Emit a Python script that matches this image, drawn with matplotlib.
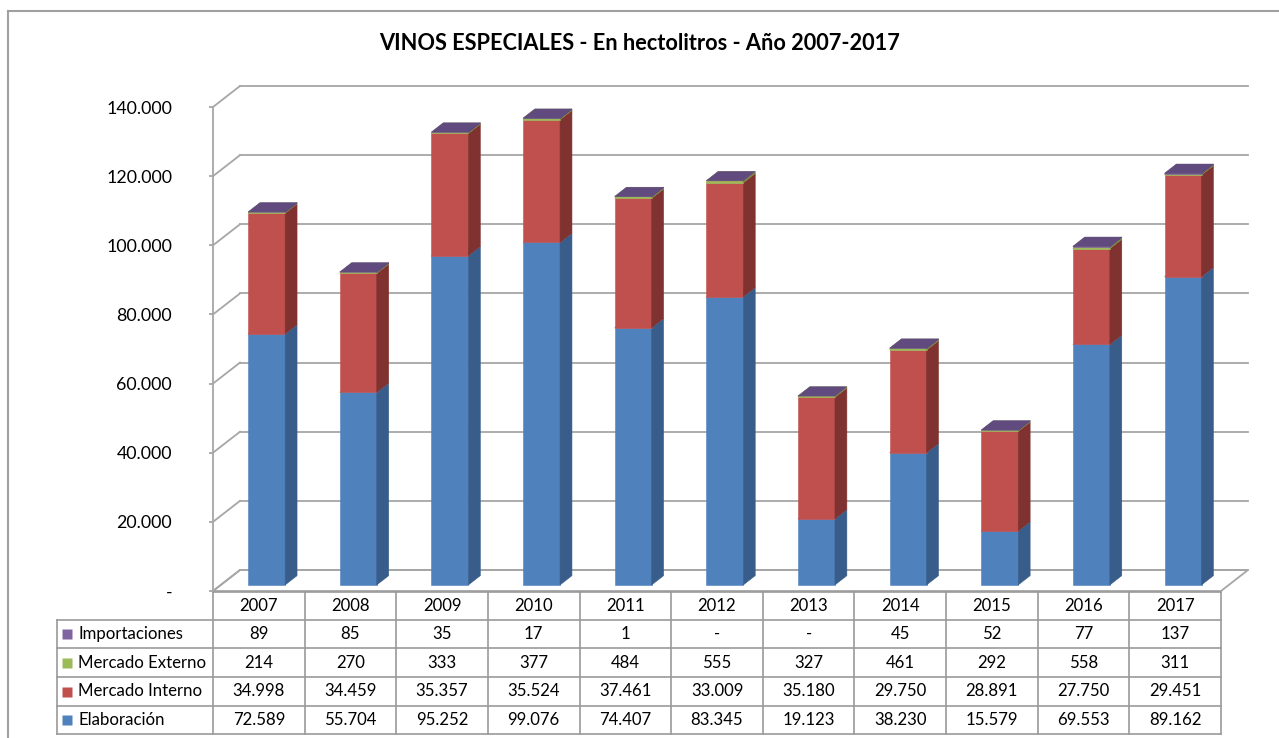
import matplotlib
matplotlib.use("Agg")
import matplotlib.pyplot as plt
from matplotlib.patches import Polygon
from matplotlib.lines import Line2D
import matplotlib.transforms as mtransforms

# datos (hectolitros)
years = ["2007", "2008", "2009", "2010", "2011", "2012", "2013", "2014", "2015", "2016", "2017"]
elaboracion = [72589, 55704, 95252, 99076, 74407, 83345, 19123, 38230, 15579, 69553, 89162]
mercado_interno = [34998, 34459, 35357, 35524, 37461, 33009, 35180, 29750, 28891, 27750, 29451]
mercado_externo = [214, 270, 333, 377, 484, 555, 327, 461, 292, 558, 311]
importaciones = [89, 85, 35, 17, 1, 0, 0, 45, 52, 77, 137]

series_names = ["Elaboración", "Mercado Interno", "Mercado Externo", "Importaciones"]
series_vals = [elaboracion, mercado_interno, mercado_externo, importaciones]
# front, side, top
series_cols = [("#4f81bd", "#385d8a", "#6f93c6"),
               ("#c0504d", "#7f322f", "#cc6c69"),
               ("#9bbb59", "#71893f", "#9bbb59"),
               ("#8064a2", "#5c4776", "#604a7e")]
yticks = [0, 20000, 40000, 60000, 80000, 100000, 120000, 140000]

plt.rcParams['font.family'] = ['Lato', 'DejaVu Sans']

W, H = 1279, 738
fig = plt.figure(figsize=(W / 100, H / 100), dpi=100)
ax = fig.add_axes([213 / W, (H - 591) / H, 1008 / W, 484 / H])
ax.set_xlim(-0.5, 10.5)
ax.set_ylim(0, 140000)

# depth of the 3d box in data units
DX = 27 / 91.64
DY = 21 * 140000 / 484
z0, z1 = 0.29, 0.73
hw = 0.202
grid_c = "#a6a6a6"


def P(x, y, z):
    return (x + z * DX, y + z * DY)


# back wall + left wall gridlines
for v in yticks:
    ax.add_line(Line2D([P(-0.5, v, 1)[0], P(10.5, v, 1)[0]], [P(-0.5, v, 1)[1]] * 2,
                       color=grid_c, lw=1.3, zorder=1, clip_on=False))
    ax.add_line(Line2D([-0.5, P(-0.5, v, 1)[0]], [v, P(-0.5, v, 1)[1]],
                       color=grid_c, lw=1.3, zorder=1, clip_on=False))
# floor
fl = [P(-0.5, 0, 0), P(10.5, 0, 0), P(10.5, 0, 1), P(-0.5, 0, 1)]
ax.add_patch(Polygon(fl, closed=True, fill=False, ec=grid_c, lw=1.3, zorder=1, clip_on=False))

# bars (a zero segment still gets its top face, like Excel)
for i in range(len(years)):
    b = 0
    for vals, (cf, cs, ct) in zip(series_vals, series_cols):
        h = vals[i]
        t = b + h
        top = [P(i - hw, t, z0), P(i + hw, t, z0), P(i + hw, t, z1), P(i - hw, t, z1)]
        polys = [(top, ct)]
        if h > 0:
            front = [P(i - hw, b, z0), P(i + hw, b, z0), P(i + hw, t, z0), P(i - hw, t, z0)]
            side = [P(i + hw, b, z0), P(i + hw, b, z1), P(i + hw, t, z1), P(i + hw, t, z0)]
            polys = [(front, cf), (side, cs), (top, ct)]
        for poly, c in polys:
            ax.add_patch(Polygon(poly, closed=True, fc=c, ec=c, lw=0.4, zorder=3, clip_on=False))
        b = t

# axes styling
for s in ["top", "right", "bottom"]:
    ax.spines[s].set_visible(False)
ax.spines["left"].set_color(grid_c)
ax.spines["left"].set_linewidth(1.3)
ax.set_xticks([])
ax.set_yticks(yticks, ["-" if v == 0 else f"{v:,}".replace(",", ".") for v in yticks])
ax.tick_params(axis="y", direction="out", length=3, width=1.3, color=grid_c, pad=26.5,
               labelsize=12.8, labelcolor="#000000")
ax.patch.set_alpha(0)

# title
fig.text(640 / W, 1 - 43 / H, "VINOS ESPECIALES - En hectolitros - Año 2007-2017",
         ha="center", va="center", fontsize=15.7, fontweight="bold")

# data table
tr = mtransforms.blended_transform_factory(ax.transData, fig.transFigure)
rows_px = [592, 620, 648, 677, 706, 734]
ry = [1 - r / H for r in rows_px]
xl = -0.5 - (213 - 57) / 91.64
tc = "#9a9a9a"
fs = 12.1
for k in range(len(years) + 1):
    ax.add_line(Line2D([k - 0.5, k - 0.5], [ry[0], ry[-1]], transform=tr, color=tc, lw=1.2, clip_on=False))
ax.add_line(Line2D([xl, xl], [ry[1], ry[-1]], transform=tr, color=tc, lw=1.2, clip_on=False))
ax.add_line(Line2D([-0.5, 10.5], [ry[0]] * 2, transform=tr, color=tc, lw=1.2, clip_on=False))
for r in ry[1:]:
    ax.add_line(Line2D([xl, 10.5], [r, r], transform=tr, color=tc, lw=1.2, clip_on=False))

for i, yr in enumerate(years):
    ax.text(i, (ry[0] + ry[1]) / 2, yr, transform=tr, ha="center", va="center", fontsize=fs)

table_order = [3, 2, 1, 0]  # Importaciones on top
for r, si in enumerate(table_order):
    yc = (ry[r + 1] + ry[r + 2]) / 2
    ax.plot([xl + 10 / 91.64], [yc], marker="s", ms=7, color=series_cols[si][0], mec="none",
            transform=tr, clip_on=False)
    ax.text(xl + 21 / 91.64, yc, series_names[si], transform=tr, ha="left", va="center", fontsize=fs)
    for i, v in enumerate(series_vals[si]):
        lab = "-" if v == 0 else f"{v:,}".replace(",", ".")
        ax.text(i, yc, lab, transform=tr, ha="center", va="center", fontsize=fs)

# chart frame
fig.add_artist(Line2D([8 / W, 1], [1 - 11 / H] * 2, color="#a0a0a0", lw=1.5))
fig.add_artist(Line2D([8 / W, 8 / W], [0, 1 - 11 / H], color="#a0a0a0", lw=1.5))

fig.savefig("out.png", dpi=100)
